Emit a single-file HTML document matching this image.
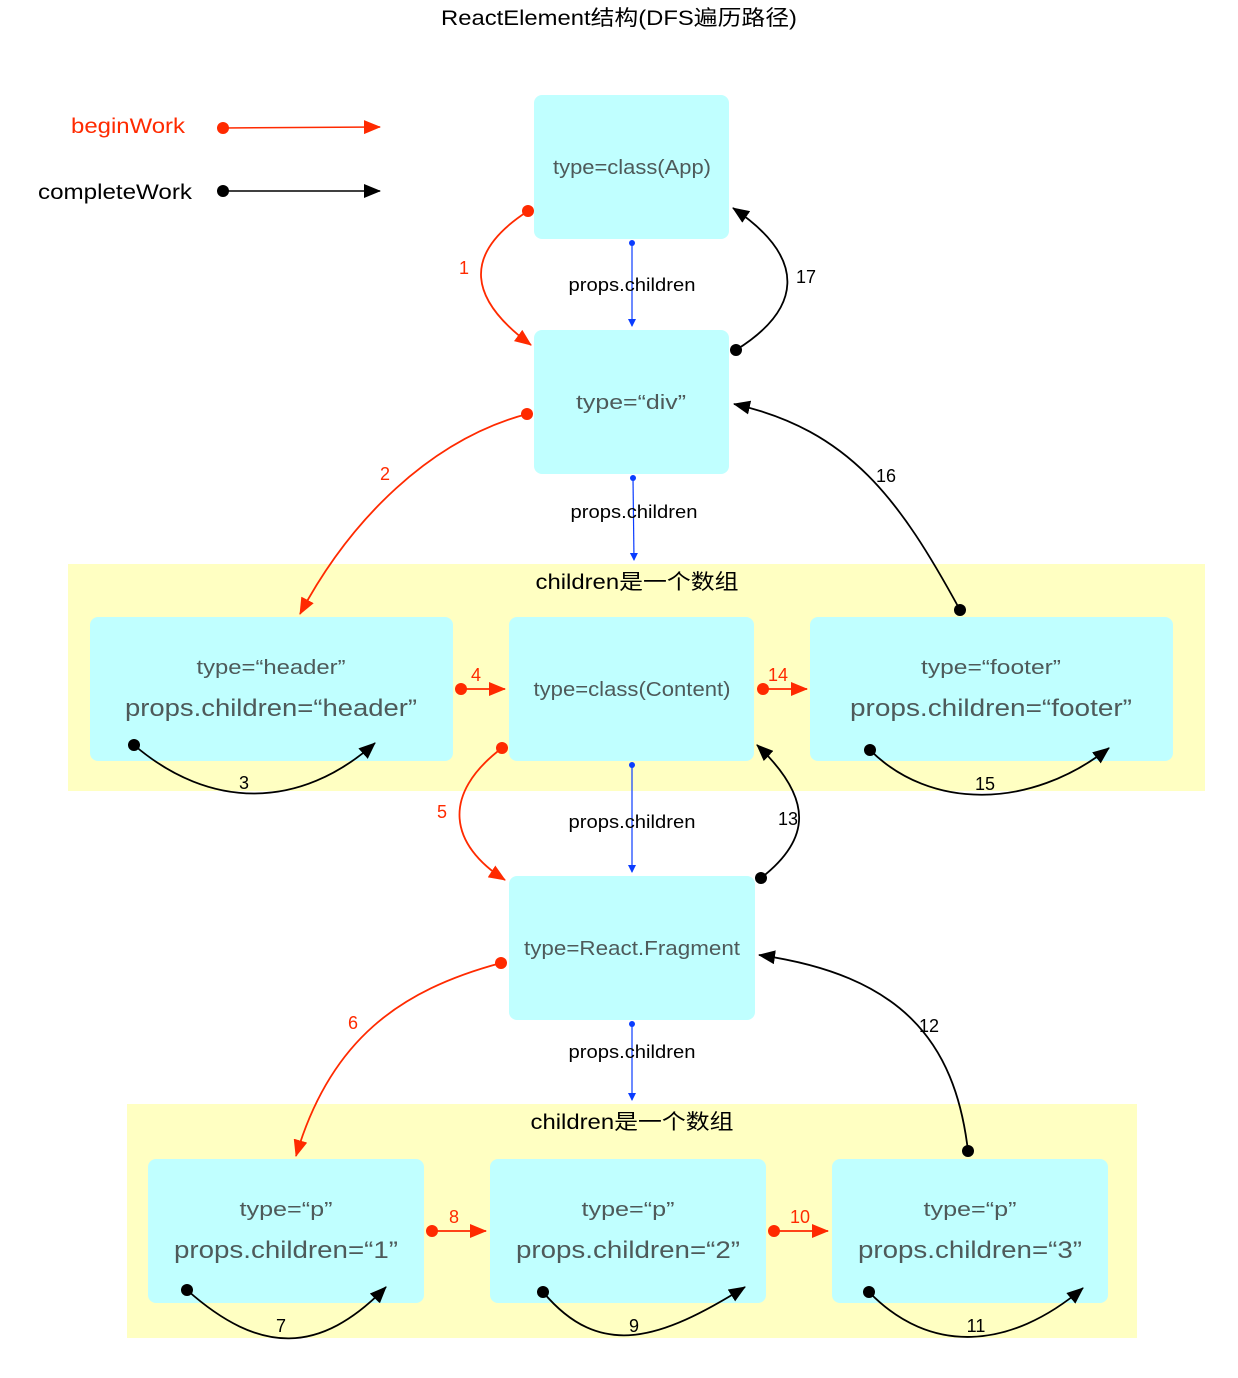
<!DOCTYPE html>
<html><head><meta charset="utf-8"><style>
html,body{margin:0;padding:0;background:#fff}
svg{display:block}
text{font-family:"Liberation Sans","Noto Sans CJK SC",sans-serif}
.t{fill:#4e5a5a;text-anchor:middle}
</style></head><body>
<svg width="1238" height="1378" viewBox="0 0 1238 1378" xmlns="http://www.w3.org/2000/svg">
<defs>
<marker id="ar" markerUnits="userSpaceOnUse" markerWidth="18" markerHeight="14" refX="16" refY="7" orient="auto"><path d="M0,0 L17,7 L0,14 Z" fill="#ff2a00"/></marker>
<marker id="ak" markerUnits="userSpaceOnUse" markerWidth="18" markerHeight="14" refX="16" refY="7" orient="auto"><path d="M0,0 L17,7 L0,14 Z" fill="#000"/></marker>
<marker id="ab" markerUnits="userSpaceOnUse" markerWidth="8" markerHeight="10" refX="7" refY="4" orient="auto"><path d="M0,0 L8,4 L0,8 Z" fill="#0a3cff"/></marker>
</defs>
<text x="619" y="25" font-size="21" text-anchor="middle" textLength="356" lengthAdjust="spacingAndGlyphs">ReactElement结构(DFS遍历路径)</text>
<!-- legend -->
<text x="185" y="133" font-size="21" fill="#ff2a00" text-anchor="end" textLength="114" lengthAdjust="spacingAndGlyphs">beginWork</text>
<line x1="223" y1="128" x2="380" y2="127" stroke="#ff2a00" stroke-width="1.5" marker-end="url(#ar)"/><circle cx="223" cy="128" r="6" fill="#ff2a00"/>
<text x="192" y="199" font-size="21" text-anchor="end" textLength="154" lengthAdjust="spacingAndGlyphs">completeWork</text>
<line x1="223" y1="191" x2="380" y2="191" stroke="#000" stroke-width="1.5" marker-end="url(#ak)"/><circle cx="223" cy="191" r="6" fill="#000"/>
<!-- groups -->
<rect x="68" y="564" width="1137" height="227" fill="#ffffc2"/>
<text x="637" y="589" font-size="21" text-anchor="middle" textLength="203" lengthAdjust="spacingAndGlyphs">children是一个数组</text>
<rect x="127" y="1104" width="1010" height="234" fill="#ffffc2"/>
<text x="632" y="1129" font-size="21" text-anchor="middle" textLength="203" lengthAdjust="spacingAndGlyphs">children是一个数组</text>
<!-- nodes -->
<g fill="#c0ffff">
<rect x="534" y="95" width="195" height="144" rx="8"/>
<rect x="534" y="330" width="195" height="144" rx="8"/>
<rect x="90" y="617" width="363" height="144" rx="8"/>
<rect x="509" y="617" width="245" height="144" rx="8"/>
<rect x="810" y="617" width="363" height="144" rx="8"/>
<rect x="509" y="876" width="246" height="144" rx="8"/>
<rect x="148" y="1159" width="276" height="144" rx="8"/>
<rect x="490" y="1159" width="276" height="144" rx="8"/>
<rect x="832" y="1159" width="276" height="144" rx="8"/>
</g>
<g font-size="20" lengthAdjust="spacingAndGlyphs">
<text class="t" x="632" y="174" textLength="158" lengthAdjust="spacingAndGlyphs">type=class(App)</text>
<text class="t" x="631" y="409" textLength="110" lengthAdjust="spacingAndGlyphs">type=“div”</text>
<text class="t" x="271" y="674" textLength="149" lengthAdjust="spacingAndGlyphs">type=“header”</text>
<text class="t" x="271" y="716" font-size="24" textLength="292" lengthAdjust="spacingAndGlyphs">props.children=“header”</text>
<text class="t" x="632" y="696" textLength="197" lengthAdjust="spacingAndGlyphs">type=class(Content)</text>
<text class="t" x="991" y="674" textLength="140" lengthAdjust="spacingAndGlyphs">type=“footer”</text>
<text class="t" x="991" y="716" font-size="24" textLength="282" lengthAdjust="spacingAndGlyphs">props.children=“footer”</text>
<text class="t" x="632" y="955" textLength="216" lengthAdjust="spacingAndGlyphs">type=React.Fragment</text>
<text class="t" x="286" y="1216" textLength="93" lengthAdjust="spacingAndGlyphs">type=“p”</text>
<text class="t" x="286" y="1258" font-size="24" textLength="224" lengthAdjust="spacingAndGlyphs">props.children=“1”</text>
<text class="t" x="628" y="1216" textLength="93" lengthAdjust="spacingAndGlyphs">type=“p”</text>
<text class="t" x="628" y="1258" font-size="24" textLength="224" lengthAdjust="spacingAndGlyphs">props.children=“2”</text>
<text class="t" x="970" y="1216" textLength="93" lengthAdjust="spacingAndGlyphs">type=“p”</text>
<text class="t" x="970" y="1258" font-size="24" textLength="224" lengthAdjust="spacingAndGlyphs">props.children=“3”</text>
</g>
<!-- blue props.children -->
<g stroke="#0a3cff" stroke-width="1.2" fill="none">
<line x1="632" y1="243" x2="632" y2="326" marker-end="url(#ab)"/>
<line x1="633" y1="478" x2="634" y2="560" marker-end="url(#ab)"/>
<line x1="632" y1="765" x2="632" y2="872" marker-end="url(#ab)"/>
<line x1="632" y1="1024" x2="632" y2="1100" marker-end="url(#ab)"/>
</g>
<g fill="#0a3cff"><circle cx="632" cy="243" r="3"/><circle cx="633" cy="478" r="3"/><circle cx="632" cy="765" r="3"/><circle cx="632" cy="1024" r="3"/></g>
<g font-size="18" text-anchor="middle">
<text x="632" y="291" textLength="127" lengthAdjust="spacingAndGlyphs">props.children</text>
<text x="634" y="518" textLength="127" lengthAdjust="spacingAndGlyphs">props.children</text>
<text x="632" y="828" textLength="127" lengthAdjust="spacingAndGlyphs">props.children</text>
<text x="632" y="1058" textLength="127" lengthAdjust="spacingAndGlyphs">props.children</text>
</g>
<!-- red arrows -->
<g stroke="#ff2a00" stroke-width="1.8" fill="none">
<path d="M528,211 C460,255 470,300 531,345" marker-end="url(#ar)"/>
<path d="M527,414 C430,440 350,520 300,614" marker-end="url(#ar)"/>
<path d="M461,689 L505,689" marker-end="url(#ar)"/>
<path d="M763,689 L807,689" marker-end="url(#ar)"/>
<path d="M502,748 C440,795 450,845 505,880" marker-end="url(#ar)"/>
<path d="M501,963 C400,990 330,1040 296,1156" marker-end="url(#ar)"/>
<path d="M432,1231 L486,1231" marker-end="url(#ar)"/>
<path d="M774,1231 L828,1231" marker-end="url(#ar)"/>
</g>
<g fill="#ff2a00"><circle cx="528" cy="211" r="6"/><circle cx="527" cy="414" r="6"/><circle cx="461" cy="689" r="6"/><circle cx="763" cy="689" r="6"/><circle cx="502" cy="748" r="6"/><circle cx="501" cy="963" r="6"/><circle cx="432" cy="1231" r="6"/><circle cx="774" cy="1231" r="6"/></g>
<g font-size="18" fill="#ff2a00" text-anchor="middle">
<text x="464" y="274">1</text><text x="385" y="480">2</text><text x="476" y="681">4</text><text x="778" y="681">14</text>
<text x="442" y="818">5</text><text x="353" y="1029">6</text><text x="454" y="1223">8</text><text x="800" y="1223">10</text>
</g>
<!-- black arrows -->
<g stroke="#000" stroke-width="1.8" fill="none">
<path d="M736,350 C800,310 810,260 733,208" marker-end="url(#ak)"/>
<path d="M960,610 C900,500 850,430 734,404" marker-end="url(#ak)"/>
<path d="M134,745 C210,810 300,810 375,743" marker-end="url(#ak)"/>
<path d="M870,750 C930,810 1030,810 1109,748" marker-end="url(#ak)"/>
<path d="M761,878 C810,840 815,800 757,745" marker-end="url(#ak)"/>
<path d="M968,1151 C955,1040 900,975 759,955" marker-end="url(#ak)"/>
<path d="M187,1290 C260,1355 320,1355 386,1287" marker-end="url(#ak)"/>
<path d="M543,1292 C600,1360 660,1340 745,1287" marker-end="url(#ak)"/>
<path d="M869,1292 C930,1355 1010,1350 1083,1288" marker-end="url(#ak)"/>
</g>
<g><circle cx="736" cy="350" r="6"/><circle cx="960" cy="610" r="6"/><circle cx="134" cy="745" r="6"/><circle cx="870" cy="750" r="6"/><circle cx="761" cy="878" r="6"/><circle cx="968" cy="1151" r="6"/><circle cx="187" cy="1290" r="6"/><circle cx="543" cy="1292" r="6"/><circle cx="869" cy="1292" r="6"/></g>
<g font-size="18" text-anchor="middle">
<text x="806" y="283">17</text><text x="886" y="482">16</text><text x="244" y="789">3</text><text x="985" y="790">15</text>
<text x="788" y="825">13</text><text x="929" y="1032">12</text><text x="281" y="1332">7</text><text x="634" y="1332">9</text><text x="976" y="1332">11</text>
</g>
</svg>
</body></html>
